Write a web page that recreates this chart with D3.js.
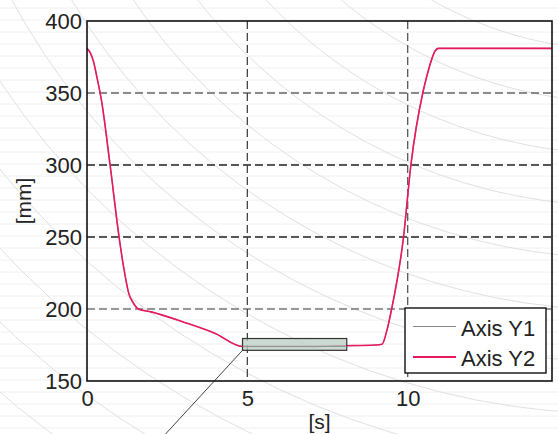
<!DOCTYPE html>
<html><head><meta charset="utf-8">
<script src="https://cdn.jsdelivr.net/npm/d3@7"></script>
<style>html,body{margin:0;padding:0;background:#fff;overflow:hidden}svg{display:block}</style>
</head><body>
<svg id="chart" width="558" height="434"></svg>
<script>
// ---- data ----
const seriesNames = ["Axis Y1", "Axis Y2"];
const timeS = [0, 0.1, 0.2, 0.3, 0.45, 0.72, 1.0, 1.15, 1.3, 1.45, 1.6, 2.0, 3.0, 4.0, 4.85, 6.0, 7.0, 8.0, 9.0, 9.2, 9.35, 9.5, 9.87, 10.1, 10.47, 10.6, 10.7, 10.85, 10.95, 12.0, 13.0, 14.5];
const axisY2mm = [381, 378, 372, 362, 345, 300, 250, 228, 211, 204, 200, 198, 191, 183, 174, 174, 174, 174.5, 175, 175.5, 185, 200, 250, 300, 350, 362, 370, 379, 381, 381, 381, 381];
const axisY1mm = axisY2mm.slice();
const xTicks = [0, 5, 10];
const yTicks = [150, 200, 250, 300, 350, 400];
const zoomBox = {t0: 4.85, t1: 8.1, v0: 171.3, v1: 179.5};
const calloutEnd = {t: 2.4, v: 112};

// ---- layout ----
const svg = d3.select("#chart");
const L = 87, R = 552, T = 21, B = 381;
const x = d3.scaleLinear().domain([0, 14.5]).range([L, R]);
const y = d3.scaleLinear().domain([150, 400]).range([B, T]);
const red = "#e8185c";
const font = "'Liberation Sans', Arial, sans-serif";

// background scan pattern (faint)
const bg = svg.append("g");
d3.range(8, 434, 12).forEach(v => bg.append("line").attr("x1", 0).attr("x2", 558).attr("y1", v).attr("y2", v)
  .attr("stroke", "#f0f0f0").attr("stroke-width", 1));
d3.range(120, 1300, 52).forEach(r => bg.append("circle").attr("cx", 620).attr("cy", -330).attr("r", r)
  .attr("fill", "none").attr("stroke", "#e0e0e0").attr("stroke-width", 1));

// grid
const gridStyle = {200: ["#777", 1.3], 250: ["#222", 1.6], 300: ["#222", 1.6], 350: ["#666", 1.3]};
[200, 250, 300, 350].forEach(v => svg.append("line").attr("x1", L).attr("x2", R)
  .attr("y1", y(v)).attr("y2", y(v)).attr("stroke", gridStyle[v][0]).attr("stroke-width", gridStyle[v][1])
  .attr("stroke-dasharray", "8,4"));
const vGrid = {5: ["#444", 1.3], 10: ["#555", 1.3]};
[5, 10].forEach(t => svg.append("line").attr("x1", x(t)).attr("x2", x(t))
  .attr("y1", T).attr("y2", B).attr("stroke", vGrid[t][0]).attr("stroke-width", vGrid[t][1])
  .attr("stroke-dasharray", "8,4"));

// callout line
svg.append("line").attr("x1", x(zoomBox.t0)).attr("y1", y(zoomBox.v0))
  .attr("x2", x(calloutEnd.t)).attr("y2", y(calloutEnd.v))
  .attr("stroke", "#444").attr("stroke-width", 1);

// series
const line = d3.line().x((d, i) => x(timeS[i])).y(d => y(d)).curve(d3.curveMonotoneX);
svg.append("path").datum(axisY1mm).attr("d", line).attr("fill", "none").attr("stroke", "#999").attr("stroke-width", 1.2);
svg.append("path").datum(axisY2mm).attr("d", line).attr("fill", "none").attr("stroke", red).attr("stroke-width", 1.6);

// zoom box
svg.append("rect").attr("x", x(zoomBox.t0)).attr("y", y(zoomBox.v1))
  .attr("width", x(zoomBox.t1) - x(zoomBox.t0)).attr("height", y(zoomBox.v0) - y(zoomBox.v1))
  .attr("fill", "#b9cfc4").attr("fill-opacity", 0.75).attr("stroke", "#333").attr("stroke-width", 1.2);
svg.append("line").attr("x1", x(zoomBox.t0)).attr("x2", x(zoomBox.t1))
  .attr("y1", y(174)).attr("y2", y(174)).attr("stroke", "#8a9a94").attr("stroke-width", 1);

// frame
svg.append("rect").attr("x", L).attr("y", T).attr("width", R - L).attr("height", B - T)
  .attr("fill", "none").attr("stroke", "#111").attr("stroke-width", 1.6);

// axes (labels only)
const yAxis = svg.append("g").attr("transform", `translate(${L},0)`)
  .call(d3.axisLeft(y).tickValues(yTicks).tickSize(0).tickPadding(5));
const xAxis = svg.append("g").attr("transform", `translate(0,${B})`)
  .call(d3.axisBottom(x).tickValues(xTicks).tickSize(0).tickPadding(9));
[yAxis, xAxis].forEach(g => {
  g.select(".domain").remove();
  g.selectAll("text").attr("font-family", font).attr("font-size", 22).attr("fill", "#222");
});

svg.append("text").attr("x", (L + R) / 2).attr("y", 429).attr("text-anchor", "middle")
  .attr("font-family", font).attr("font-size", 21).attr("fill", "#222").text("[s]");
svg.append("text").attr("transform", `translate(31,${(T + B) / 2}) rotate(-90)`).attr("text-anchor", "middle")
  .attr("font-family", font).attr("font-size", 21).attr("fill", "#222").text("[mm]");

// legend
const lg = svg.append("g");
lg.append("rect").attr("x", 405).attr("y", 308).attr("width", 141).attr("height", 65)
  .attr("fill", "#fff").attr("stroke", "#111").attr("stroke-width", 1.4);
const legColors = ["#888", red];
seriesNames.forEach((n, i) => {
  const yy = 326.5 + i * 30.5;
  lg.append("line").attr("x1", 413).attr("x2", 456).attr("y1", yy).attr("y2", yy)
    .attr("stroke", legColors[i]).attr("stroke-width", i ? 1.8 : 1.2);
  lg.append("text").attr("x", 461).attr("y", yy + 9).attr("font-family", font).attr("font-size", 22)
    .attr("fill", "#222").text(n);
});
</script>
</body></html>
